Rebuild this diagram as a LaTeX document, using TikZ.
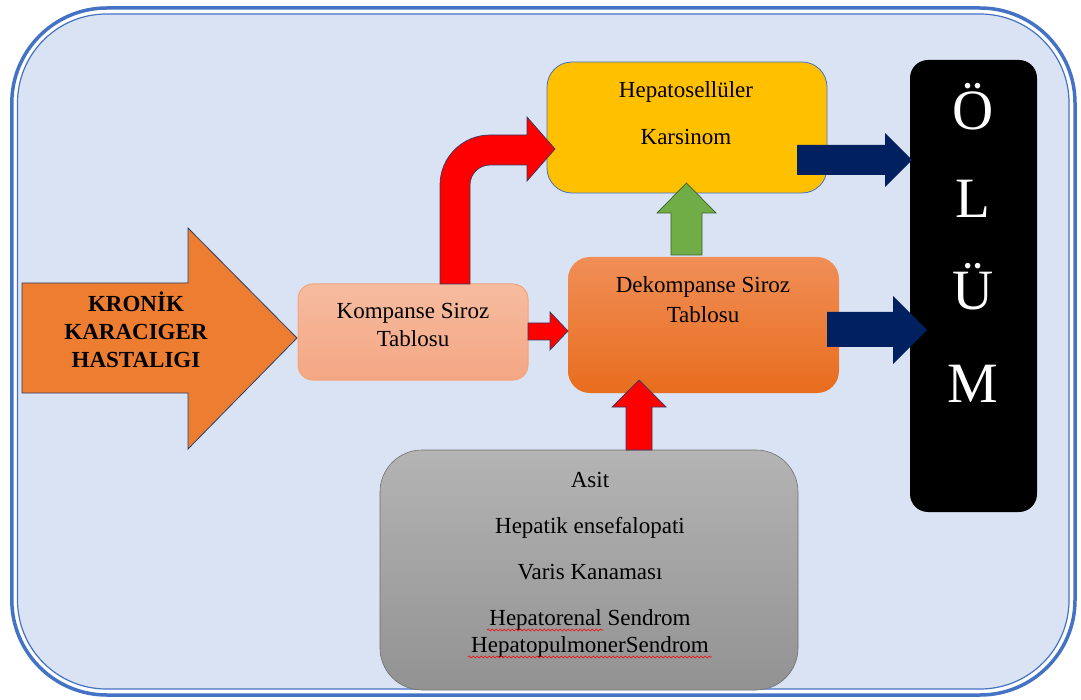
\documentclass[tikz,border=0pt]{standalone}
\usepackage{fontspec}
\setmainfont{Liberation Serif}
\usetikzlibrary{decorations.pathmorphing}
\definecolor{bgc}{HTML}{DAE3F3}
\definecolor{bdc}{HTML}{4472C4}
\definecolor{orc}{HTML}{ED7D31}
\definecolor{outl}{HTML}{2F3F66}
\definecolor{hccc}{HTML}{FFC000}
\definecolor{navy}{HTML}{002060}
\definecolor{grn}{HTML}{70AD47}
\definecolor{grnb}{HTML}{3B5E2A}
\definecolor{komt}{HTML}{F6BCA0}
\definecolor{komb}{HTML}{F4A683}
\definecolor{komd}{HTML}{F2A57A}
\definecolor{dekt}{HTML}{F08E57}
\definecolor{dekb}{HTML}{E86D1D}
\definecolor{gryt}{HTML}{B4B4B4}
\definecolor{gryb}{HTML}{929292}
\definecolor{grybd}{HTML}{707070}
\tikzset{
  txt/.style={font=\fontsize{23}{27.5}\selectfont, align=center, inner sep=0pt, text=black},
  boxbase/.style={rectangle, inner sep=0pt},
  redarrow/.style={fill=red, draw=outl, line width=0.7pt},
  navyarrow/.style={fill=navy, draw=none},
  squig/.style={draw=red, line width=0.6pt, decorate, decoration={snake, segment length=4pt, amplitude=0.9pt}},
  olumtxt/.style={font=\fontsize{57}{60}\selectfont, text=white, inner sep=0pt, anchor=base}
}
\begin{document}
\begin{tikzpicture}[x=1pt,y=-1pt]
\useasboundingbox (0,0) rectangle (1081,700);
% outer frame
\draw[line width=3.5pt, draw=bdc, fill=white, rounded corners=95pt] (11.8,8) rectangle (1075,695);
\draw[line width=1.2pt, draw=bdc, fill=bgc, rounded corners=89pt] (17.5,14) rectangle (1069,689);

% big orange arrow
\draw[fill=orc, draw=outl, line width=0.8pt] (22,283) -- (188,283) -- (188,228) -- (297,338) -- (188,449) -- (188,393) -- (22,393) -- cycle;
\node[txt, font=\fontsize{23}{28}\selectfont\bfseries] (khtext) at (136,330) {KRONİK\\KARACIGER\\HASTALIGI};

% boxes
\node[boxbase, minimum width=230pt, minimum height=96pt, rounded corners=15pt, top color=komt, bottom color=komb, draw=komd, line width=1pt] (kom) at (413,332) {};
\node[boxbase, minimum width=280pt, minimum height=131pt, rounded corners=25pt, fill=hccc, draw=bdc, line width=0.8pt] (hcc) at (687,127.5) {};
\node[boxbase, minimum width=271pt, minimum height=136pt, rounded corners=22pt, top color=dekt, bottom color=dekb] (dek) at (703.5,325) {};
\node[boxbase, minimum width=418pt, minimum height=240pt, rounded corners=42pt, top color=gryt, bottom color=gryb, draw=grybd, line width=0.6pt] (gry) at (589,570) {};
\node[boxbase, minimum width=127pt, minimum height=452pt, rounded corners=18pt, fill=black] (olum) at (973.5,286) {};

% texts
\node[txt] (komtxt) at (413,325) {Kompanse Siroz\\Tablosu};
\node[txt] (hcctxt) at (686,113) {Hepatosellüler\\[19pt]Karsinom};
\node[txt, font=\fontsize{23}{30}\selectfont] (dektxt) at (703,300) {Dekompanse Siroz\\Tablosu};
\node[txt, font=\fontsize{23}{27}\selectfont] (grytxt) at (590,565) {Asit\\[19pt]Hepatik ensefalopati\\[19pt]Varis Kanaması\\[19pt]Hepatorenal Sendrom\\HepatopulmonerSendrom};
\draw[squig] (487,630) -- (603,630);
\draw[squig] (468,657) -- (712,657);

\node[olumtxt] (l1) at (973,130) {Ö};
\node[olumtxt] (l2) at (973,218) {L};
\node[olumtxt] (l3) at (973,310) {Ü};
\node[olumtxt] (l4) at (973,402) {M};

% red bent arrow Kompanse -> HCC
\draw[redarrow] (440,284) -- (440,185) arc[start angle=180, end angle=270, radius=50] -- (527,135) -- (527,117) -- (555,149) -- (527,181) -- (527,165) -- (490,165) arc[start angle=270, end angle=180, radius=20] -- (470,284) -- cycle;
% small red arrow Kompanse -> Dekompanse
\draw[redarrow] (528,323) -- (550,323) -- (550,312) -- (568,331) -- (550,350) -- (550,340) -- (528,340) -- cycle;
% red up arrow gray -> Dekompanse
\draw[redarrow] (626,450) -- (626,407) -- (612,407) -- (639,380) -- (666,407) -- (652,407) -- (652,450) -- cycle;
% green up arrow Dekompanse -> HCC
\draw[fill=grn, draw=grnb, line width=0.7pt] (671,255) -- (671,213) -- (657,213) -- (686.5,183) -- (716,213) -- (702,213) -- (702,255) -- cycle;
% navy arrows to OLUM
\fill[navyarrow] (797,145) -- (885,145) -- (885,133) -- (912,160) -- (885,187) -- (885,175) -- (797,175) -- cycle;
\fill[navyarrow] (827,312) -- (893,312) -- (893,296) -- (927,330) -- (893,364) -- (893,347) -- (827,347) -- cycle;
\end{tikzpicture}
\end{document}
